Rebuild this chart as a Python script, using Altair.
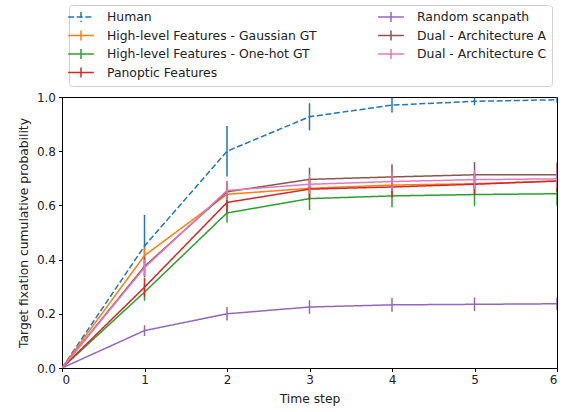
import altair as alt
import pandas as pd

steps = [0, 1, 2, 3, 4, 5, 6]

series_names = [
    "Human",
    "High-level Features - Gaussian GT",
    "High-level Features - One-hot GT",
    "Panoptic Features",
    "Random scanpath",
    "Dual - Architecture A",
    "Dual - Architecture C",
]
series_colors = ["#1f77b4", "#ff7f0e", "#2ca02c", "#d62728", "#9467bd", "#8c564b", "#e377c2"]

human = [0.0, 0.45, 0.80, 0.927, 0.970, 0.984, 0.990]
human_err = [0.0, 0.115, 0.093, 0.05, 0.027, 0.014, 0.010]

gaussian = [0.0, 0.415, 0.641, 0.663, 0.675, 0.680, 0.690]
gaussian_err = [0.0, 0.030, 0.035, 0.035, 0.035, 0.035, 0.035]

onehot = [0.0, 0.280, 0.572, 0.625, 0.635, 0.640, 0.643]
onehot_err = [0.0, 0.032, 0.035, 0.042, 0.042, 0.043, 0.043]

panoptic = [0.0, 0.298, 0.611, 0.660, 0.668, 0.678, 0.690]
panoptic_err = [0.0, 0.035, 0.040, 0.040, 0.040, 0.040, 0.040]

random_sp = [0.0, 0.138, 0.200, 0.225, 0.233, 0.235, 0.237]
random_err = [0.0, 0.020, 0.025, 0.025, 0.025, 0.025, 0.023]

dual_a = [0.0, 0.375, 0.650, 0.696, 0.705, 0.713, 0.713]
dual_a_err = [0.0, 0.035, 0.040, 0.043, 0.047, 0.047, 0.045]

dual_c = [0.0, 0.370, 0.655, 0.678, 0.688, 0.695, 0.698]
dual_c_err = [0.0, 0.030, 0.035, 0.035, 0.035, 0.035, 0.035]

values = [human, gaussian, onehot, panoptic, random_sp, dual_a, dual_c]
errors = [human_err, gaussian_err, onehot_err, panoptic_err, random_err, dual_a_err, dual_c_err]

rows = []
for name, vals, errs in zip(series_names, values, errors):
    for s, v, e in zip(steps, vals, errs):
        rows.append({"series": name, "step": s, "value": v, "lo": v - e, "hi": v + e, "err": e})
df = pd.DataFrame(rows)

dash_range = [[6, 2.6] if n == "Human" else [1, 0] for n in series_names]

legend = alt.Legend(
    orient="none",
    legendX=7,
    legendY=-92,
    columns=2,
    title=None,
    symbolType="M-2.15,0L2.15,0M0,-0.83L0,0.83",
    symbolSize=144,
    symbolStrokeWidth=1.5,
    labelFont="DejaVu Sans",
    labelFontSize=12.4,
    labelColor="#222222",
    labelLimit=400,
    labelOffset=19,
    columnPadding=58,
    rowPadding=2.5,
    padding=5,
    strokeColor="#d0d0d0",
    fillColor="white",
    cornerRadius=3,
)

color_enc = alt.Color("series:N", scale=alt.Scale(domain=series_names, range=series_colors), legend=legend)
dash_enc = alt.StrokeDash("series:N", scale=alt.Scale(domain=series_names, range=dash_range), legend=legend)

x_enc = alt.X(
    "step:Q",
    title="Time step",
    scale=alt.Scale(domain=[0, 6], nice=False),
    axis=alt.Axis(values=steps, format="d"),
)
y_scale = alt.Scale(domain=[0, 1], nice=False)
y_axis = alt.Axis(values=[0, 0.2, 0.4, 0.6, 0.8, 1.0], format=".1f")

layers = []
for name in series_names:
    base = alt.Chart(df).transform_filter(alt.datum.series == name)
    bars = base.transform_filter(alt.datum.err > 0).mark_rule(strokeWidth=1.5, clip=True).encode(
        x=x_enc,
        y=alt.Y("lo:Q", scale=y_scale, axis=y_axis, title="Target fixation cumulative probability"),
        y2="hi:Q",
        color=color_enc,
    )
    line = base.mark_line(strokeWidth=1.5, clip=True).encode(
        x=x_enc,
        y=alt.Y("value:Q", scale=y_scale, axis=y_axis, title="Target fixation cumulative probability"),
        color=color_enc,
        strokeDash=dash_enc,
        order="step:Q",
    )
    layers += [bars, line]

chart = alt.layer(*layers).properties(
    width=495,
    height=271,
    autosize="none",
    padding={"left": 62, "top": 97, "right": 7, "bottom": 44},
).configure_view(
    stroke="black", strokeWidth=1
).configure_axis(
    grid=False,
    domainColor="black",
    tickColor="black",
    tickSize=3.5,
    labelFont="DejaVu Sans",
    labelFontSize=12,
    labelColor="#222222",
    labelPadding=3,
    titleFont="DejaVu Sans",
    titleFontSize=12.3,
    titleFontWeight="normal",
    titleColor="#222222",
).configure_axisY(
    titlePadding=6
).configure_axisX(
    titlePadding=7
)

chart.save("out.html", embed_options={"renderer": "svg", "actions": False})
